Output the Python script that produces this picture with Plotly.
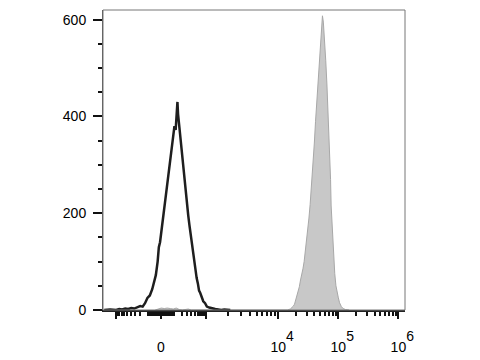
import numpy as np
import plotly.graph_objects as go

# ---- data (x in display/channel units of the biexponential axis, y = counts) ----
black_x = [1.10, 1.20, 1.30, 1.35, 1.40, 1.45, 1.50, 1.55, 1.60, 1.65, 1.70, 1.74, 1.78, 1.82,
           1.86, 1.90, 1.93, 1.96, 1.99, 2.01, 2.03, 2.05, 2.07, 2.09, 2.11, 2.13, 2.15, 2.17,
           2.19, 2.21, 2.23, 2.25, 2.27, 2.29, 2.30, 2.32, 2.33, 2.34, 2.36, 2.38, 2.40, 2.42,
           2.44, 2.46, 2.48, 2.50, 2.52, 2.54, 2.56, 2.58, 2.60, 2.62, 2.64, 2.66, 2.68, 2.70,
           2.72, 2.75, 2.78, 2.81, 2.85, 2.90, 2.95, 3.00, 3.05, 3.10, 3.20]
black_y = [0, 1, 0, 2, 1, 3, 2, 4, 3, 6, 8, 7, 14, 25,
           30, 43, 55, 72, 100, 130, 140, 165, 185, 200, 220, 240, 262, 282,
           300, 318, 335, 362, 380, 372, 395, 430, 405, 392, 375, 352, 330, 300,
           262, 245, 222, 195, 175, 155, 135, 118, 100, 82, 66, 55, 40, 35,
           28, 18, 14, 7, 5, 3, 2, 1, 0, 1, 0]

grey_x = [1.95, 2.00, 2.05, 2.10, 2.15, 2.20, 2.25, 2.30, 2.35, 2.40, 2.50, 2.55, 2.60,
          4.15, 4.20, 4.23, 4.25, 4.27, 4.29, 4.31, 4.33, 4.35, 4.37, 4.39, 4.41, 4.43, 4.45,
          4.47, 4.49, 4.51, 4.53, 4.55, 4.57, 4.58, 4.59, 4.60, 4.62, 4.64, 4.66, 4.68, 4.70,
          4.72, 4.735, 4.75, 4.77, 4.79, 4.81, 4.83, 4.85, 4.87, 4.88, 4.90, 4.92, 4.94, 4.96,
          4.98, 5.00, 5.02, 5.05, 5.08, 5.12, 5.18]
grey_y = [0, 2, 4, 3, 4, 3, 2, 4, 1, 0, 2, 0, 0,
          0, 2, 5, 8, 12, 20, 30, 38, 48, 62, 72, 85, 100, 120,
          140, 165, 190, 218, 250, 290, 318, 330, 345, 390, 430, 475, 515, 555,
          590, 608, 595, 560, 515, 465, 410, 350, 270, 215, 165, 135, 75, 50,
          35, 25, 15, 7, 3, 1, 0]

major_tick_values = [-1000, 0, 1000, 1e4, 1e5, 1e6]
sup = '<span style="font-size:14px;baseline-shift:11px">{}</span>'
major_tick_labels = ["", "0", "",
                     "&nbsp;&nbsp;10" + sup.format(4),
                     "&nbsp;&nbsp;10" + sup.format(5),
                     "&nbsp;&nbsp;10" + sup.format(6)]
minor_tick_values = ([-m * 100 for m in range(1, 10)] + [-m * 10 for m in range(1, 10)]
                     + [m * 10 for m in range(1, 10)] + [m * 100 for m in range(1, 10)]
                     + [m * 1000 for m in range(2, 10)] + [m * 1e4 for m in range(2, 10)]
                     + [m * 1e5 for m in range(2, 10)])

y_major = [0, 200, 400, 600]


def disp(v):
    """biexponential-like display transform (value -> axis units)"""
    if abs(v) <= 1000:
        return 2.045 + np.sign(v) * 0.755 * np.log10(1 + abs(v) / 100) / np.log10(11)
    if v < 1e4:
        return 2.80 + 1.2 * np.log10(v / 1000)
    return 4 + np.log10(v / 1e4)


fig = go.Figure()
fig.add_trace(go.Scatter(x=grey_x, y=grey_y, mode="lines", fill="tozeroy",
                         fillcolor="#c8c8c8", line=dict(color="#a8a8a8", width=1),
                         hoverinfo="skip"))
fig.add_trace(go.Scatter(x=black_x, y=black_y, mode="lines",
                         line=dict(color="#1e1e1e", width=2.5), hoverinfo="skip"))

font = dict(family="Liberation Sans, Arial, sans-serif", size=14, color="#000")

fig.update_layout(
    width=480, height=360,
    margin=dict(l=103, r=75, t=10, b=50),
    paper_bgcolor="white", plot_bgcolor="white",
    showlegend=False,
    font=font,
    xaxis=dict(
        range=[1.08, 6.11], showgrid=False, zeroline=False, automargin=False,
        showline=True, linecolor="#222", linewidth=2,
        tickmode="array", tickvals=[disp(v) for v in major_tick_values],
        ticktext=major_tick_labels,
        ticks="outside", ticklen=7, tickwidth=2, tickcolor="#111",
        ticklabelstandoff=16,
        minor=dict(tickmode="array", tickvals=[disp(v) for v in minor_tick_values],
                   ticks="outside", ticklen=4, tickwidth=1.5, tickcolor="#111",
                   showgrid=False),
        tickfont=font,
    ),
    yaxis=dict(
        range=[0, 620], showgrid=False, zeroline=False, automargin=False,
        showline=True, linecolor="#555", linewidth=1,
        tickmode="array", tickvals=y_major,
        ticks="outside", ticklen=9, tickwidth=2, tickcolor="#111",
        ticklabelstandoff=4,
        minor=dict(dtick=50, ticks="outside", ticklen=4, tickwidth=1.5,
                   tickcolor="#111", showgrid=False),
        tickfont=font,
    ),
    shapes=[dict(type="rect", xref="paper", yref="paper", x0=0, x1=1, y0=0, y1=1,
                 line=dict(color="#777", width=1), layer="above")],
)

fig.write_html("out.html")
